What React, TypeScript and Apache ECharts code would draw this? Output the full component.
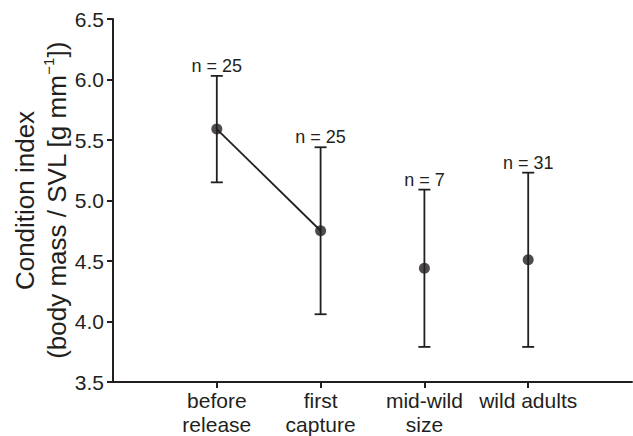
import React, { useEffect, useRef } from "react";
import * as echarts from "echarts";

const categories = ["before\nrelease", "first\ncapture", "mid-wild\nsize", "wild adults"];
const positions = [1, 2, 3, 4];
const means = [5.59, 4.75, 4.44, 4.51];
const lows = [5.15, 4.06, 3.79, 3.79];
const highs = [6.03, 5.44, 5.09, 5.23];
const nLabels = ["n = 25", "n = 25", "n = 7", "n = 31"];
const connected = [0, 1];
const yTicks = { min: 3.5, max: 6.5, interval: 0.5 };

const INK = "#231f20";
const FONT = "'Liberation Sans', Arial, Helvetica, sans-serif";

export default function App() {
  const ref = useRef<HTMLDivElement>(null);
  useEffect(() => {
    document.body.style.margin = "0";
    const chart = echarts.init(ref.current!, null, { renderer: "svg" });
    const errData = positions.map((p, i) => [p, lows[i], highs[i], means[i]]);
    chart.setOption({
      animation: false,
      backgroundColor: "#ffffff",
      grid: { left: 113, right: 1, top: 19, bottom: 54, containLabel: false, outerBoundsMode: "none" },
      xAxis: {
        type: "value",
        min: 0,
        max: 5,
        interval: 1,
        splitLine: { show: false },
        axisLine: { show: true, lineStyle: { color: INK, width: 2 } },
        axisTick: { show: true, length: 6, customValues: positions, lineStyle: { color: INK, width: 2 } },
        axisLabel: {
          customValues: positions,
          formatter: (v: number) => {
            const i = positions.indexOf(Math.round(v));
            return i >= 0 ? categories[i] : "";
          },
          color: INK,
          fontFamily: FONT,
          fontSize: 21,
          lineHeight: 24,
          margin: 6,
        },
      },
      yAxis: {
        type: "value",
        min: yTicks.min,
        max: yTicks.max,
        interval: yTicks.interval,
        splitLine: { show: false },
        axisLine: { show: true, lineStyle: { color: INK, width: 2 } },
        axisTick: { show: true, length: 6, lineStyle: { color: INK, width: 2 } },
        axisLabel: {
          formatter: (v: number) => v.toFixed(1),
          color: INK,
          fontFamily: FONT,
          fontSize: 21,
          margin: 9,
        },
        name: "{a|Condition index}\n{a|(body mass / SVL [g mm}{s|−1}{a|])}",
        nameLocation: "middle",
        nameRotate: 90,
        nameGap: 40,
        nameMoveOverlap: false,
        nameTextStyle: {
          color: INK,
          fontFamily: FONT,
          fontSize: 26,
          lineHeight: 32,
          rich: {
            a: { fontSize: 26, fontFamily: FONT, color: INK, lineHeight: 32 },
            s: { fontSize: 15, fontFamily: FONT, color: INK, lineHeight: 32, verticalAlign: "top", padding: [0, 0, 11, 0] },
          },
        },
      },
      series: [
        {
          type: "custom",
          data: errData,
          renderItem: (params: any, api: any) => {
            const x = api.value(0);
            const lo = api.coord([x, api.value(1)]);
            const hi = api.coord([x, api.value(2)]);
            const hw = 6;
            const style = { stroke: INK, lineWidth: 1.8 };
            return {
              type: "group",
              children: [
                { type: "line", shape: { x1: lo[0], y1: lo[1], x2: hi[0], y2: hi[1] }, style },
                { type: "line", shape: { x1: lo[0] - hw, y1: lo[1], x2: lo[0] + hw, y2: lo[1] }, style },
                { type: "line", shape: { x1: hi[0] - hw, y1: hi[1], x2: hi[0] + hw, y2: hi[1] }, style },
                {
                  type: "text",
                  x: hi[0],
                  y: hi[1] - 1,
                  style: {
                    text: nLabels[params.dataIndex],
                    fill: INK,
                    font: `18px ${FONT}`,
                    align: "center",
                    verticalAlign: "bottom",
                  },
                },
              ],
            };
          },
          z: 2,
        },
        {
          type: "line",
          data: connected.map((i) => [positions[i], means[i]]),
          symbol: "none",
          lineStyle: { color: INK, width: 1.8 },
          z: 3,
        },
        {
          type: "scatter",
          data: positions.map((p, i) => [p, means[i]]),
          symbol: "circle",
          symbolSize: 11,
          itemStyle: { color: INK },
          z: 4,
        },
      ],
    });
    return () => chart.dispose();
  }, []);
  return <div ref={ref} style={{ width: 633, height: 436 }} />;
}
